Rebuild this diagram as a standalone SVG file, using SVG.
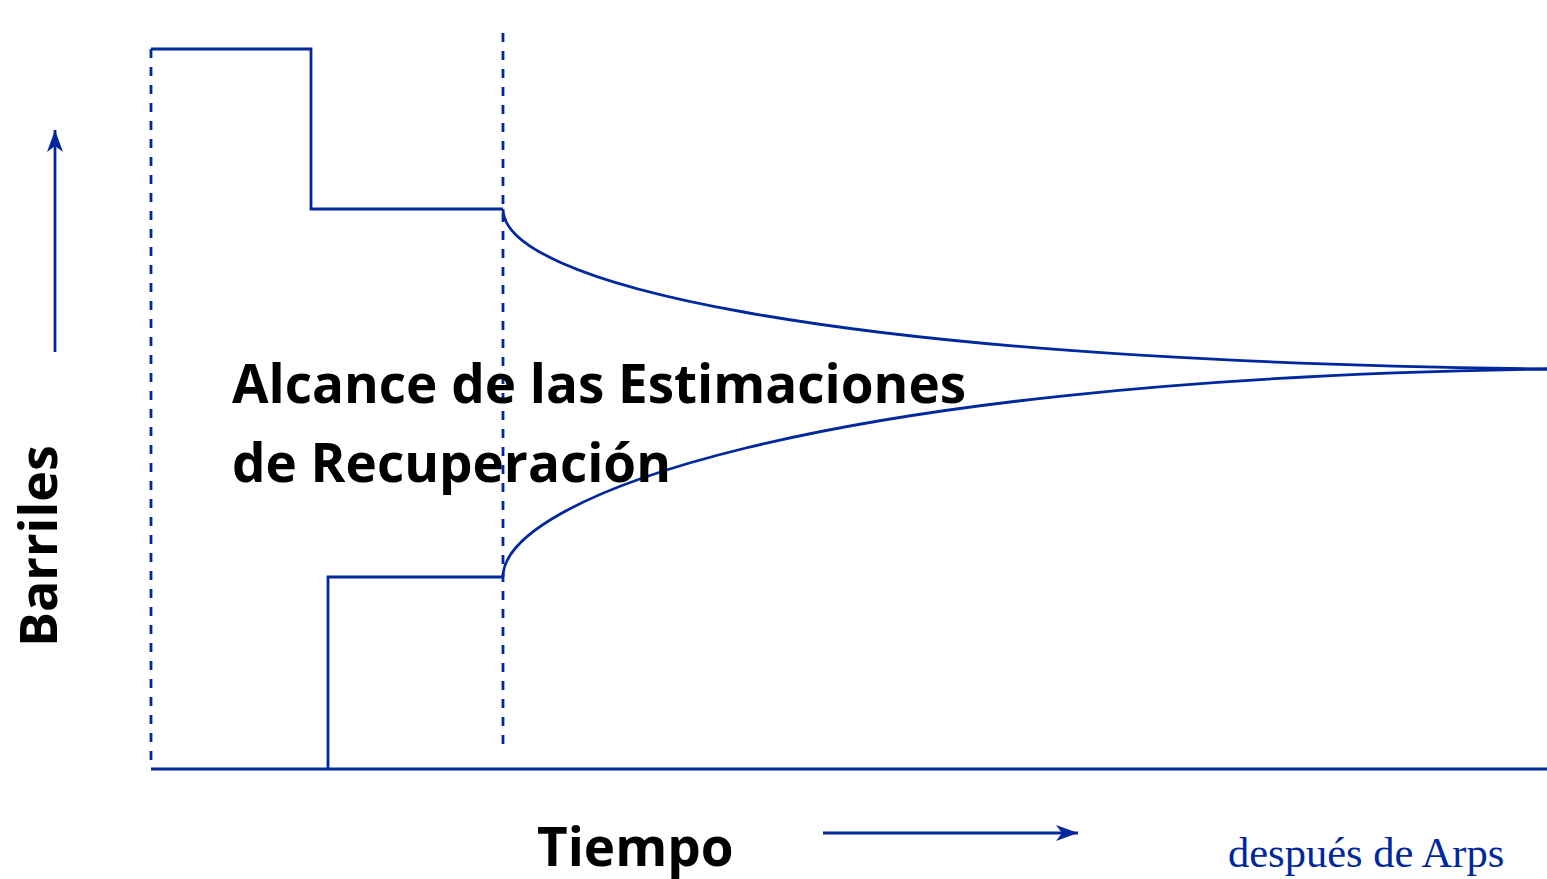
<svg xmlns="http://www.w3.org/2000/svg" width="1547" height="879" viewBox="0 0 1547 879">
<style>
.ln{fill:none;stroke:#00289e;stroke-width:2.8}
.dash{fill:none;stroke:#00289e;stroke-width:2.8;stroke-dasharray:9,9}
.bold{font-family:"Open Sans","DejaVu Sans",sans-serif;font-weight:bold;fill:#000}
.src{font-family:"Liberation Serif","Times New Roman",serif;fill:#00289e}
</style>
<defs>
<marker id="ah" viewBox="0 0 22 16" refX="22" refY="8" markerWidth="22" markerHeight="16" markerUnits="userSpaceOnUse" orient="auto">
<path d="M0,0 L22,8 L0,16 L6,8 Z" fill="#00289e"/>
</marker>
</defs>
<rect width="1547" height="879" fill="#fff"/>
<g id="connectors">
<path class="dash" d="M151,49 V769"/>
<path class="dash" d="M503,33 V752"/>
<path class="ln" d="M151,49 H311 V209 H503"/>
<path class="ln" d="M328,769 V577 H503"/>
<path class="ln" d="M151,769 H1547"/>
<path class="ln" d="M503,209 C503,280 800,360 1547,369"/>
<path class="ln" d="M503,577 C503,500 800,380 1547,369"/>
<path class="ln" d="M55,352 V130" marker-end="url(#ah)"/>
<path class="ln" d="M823,833 H1078" marker-end="url(#ah)"/>
</g>
<g id="labels">
<text class="bold" x="232" y="403" font-size="53">Alcance de las Estimaciones</text>
<text class="bold" x="232" y="482" font-size="53">de Recuperación</text>
<text class="bold" x="537" y="866" font-size="53">Tiempo</text>
<text class="bold" transform="translate(57,647) rotate(-90)" font-size="52">Barriles</text>
<text class="src" x="1228" y="867" font-size="42.5">después de Arps</text>
</g>
</svg>
